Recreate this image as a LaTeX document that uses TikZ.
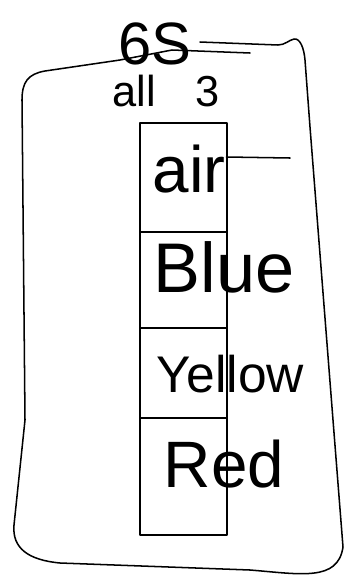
\documentclass[tikz,border=0pt]{standalone}
\usepackage{fontspec}
\setmainfont{Liberation Sans}
\usetikzlibrary{calc}

\begin{document}
\begin{tikzpicture}[x=0.03cm, y=-0.03cm, line width=1.3pt, line join=round, line cap=round,
    word/.style={anchor=base west, inner sep=0pt, font=\fontsize{#1}{#1}\selectfont}]
    \useasboundingbox (0,0) rectangle (348,580);

    % outer frame
    \draw (250,53) -- (172,50) -- (120,60) -- (45,71) .. controls (28,74) and (22,82) .. (22,100)
        -- (25,420) -- (14,525) .. controls (12,548) and (28,560) .. (60,563)
        -- (250,570) .. controls (300,574) and (338,582) .. (343,547) -- (333,420) -- (310,127)
        -- (305,60) .. controls (304,48) and (300,38) .. (294,39)
        .. controls (289,40) and (285,45) .. (278,45) -- (200,42);

    % column
    \foreach \ya/\yb in {123/232,232/328,328/418,418/535}
        \draw (140,\ya) rectangle (227,\yb);

    % labels
    \node[word=51pt] (six) at (118,64) {6S};
    \node[word=37pt] (all) at (112,106) {all\hspace{0.9em}3};
    \node[word=56pt] (air) at (152,192) {air};
    \node[word=60pt] (blue) at (153,292) {Blue};
    \node[word=44pt] (yellow) at (156,392) {Yellow};
    \node[word=56pt] (red) at (163,487) {Red};
    \coordinate (tail) at (290,158);
    \draw ($(air.base east)+(0,-35)$) -- (tail);
\end{tikzpicture}
\end{document}
